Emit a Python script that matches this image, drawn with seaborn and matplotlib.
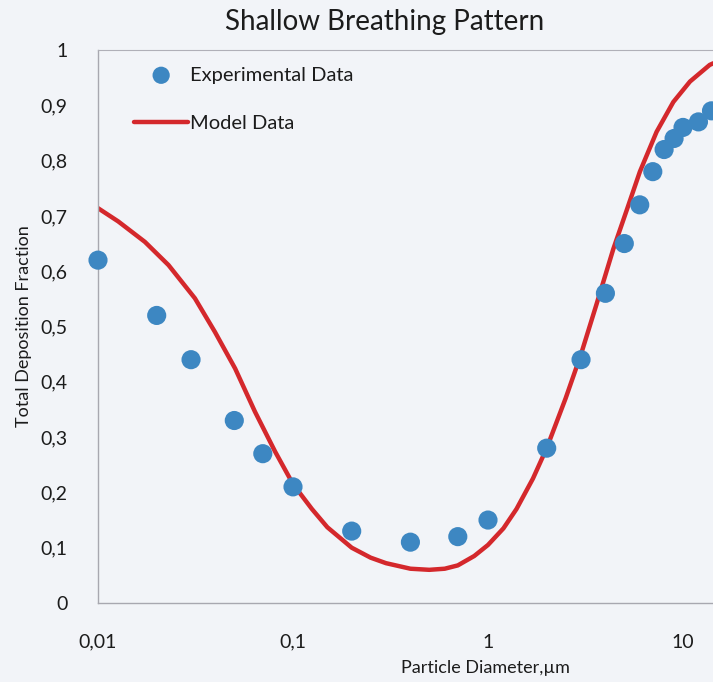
import matplotlib
matplotlib.use("Agg")
import matplotlib.pyplot as plt
import matplotlib.ticker as mticker
import seaborn as sns
import pandas as pd

# Measured total deposition (shallow breathing)
exp_diameter = [0.01, 0.02, 0.03, 0.05, 0.07, 0.1, 0.2, 0.4, 0.7, 1, 2, 3, 4, 5,
                6, 7, 8, 9, 10, 12, 14]
exp_fraction = [0.62, 0.52, 0.44, 0.33, 0.27, 0.21, 0.13, 0.11, 0.12, 0.15, 0.28,
                0.44, 0.56, 0.65, 0.72, 0.78, 0.82, 0.84, 0.86, 0.87, 0.89]

# Model prediction
model_diameter = [0.01, 0.0127, 0.0174, 0.023, 0.0314, 0.0398, 0.0505, 0.0638,
                  0.0809, 0.1, 0.125, 0.15, 0.2, 0.25, 0.3, 0.4, 0.5, 0.6, 0.7,
                  0.85, 1.0, 1.2, 1.4, 1.7, 2.0, 2.5, 3.0, 3.6, 4.39, 5.14, 6.01,
                  7.32, 8.92, 10.86, 13.7, 14.3]
model_fraction = [0.714, 0.690, 0.653, 0.611, 0.551, 0.490, 0.424, 0.346, 0.274,
                  0.215, 0.170, 0.137, 0.100, 0.082, 0.072, 0.062, 0.060, 0.062,
                  0.068, 0.085, 0.105, 0.135, 0.170, 0.225, 0.280, 0.370, 0.450,
                  0.540, 0.640, 0.710, 0.780, 0.852, 0.906, 0.943, 0.973, 0.976]

x_ticks = [0.01, 0.1, 1, 10]
x_tick_labels = ["0,01", "0,1", "1", "10"]
y_ticks = [0, 0.1, 0.2, 0.3, 0.4, 0.5, 0.6, 0.7, 0.8, 0.9, 1.0]
y_tick_labels = ["0", "0,1", "0,2", "0,3", "0,4", "0,5", "0,6", "0,7", "0,8", "0,9", "1"]

sns.set_theme(style="white")
plt.rcParams["font.family"] = ["Lato", "DejaVu Sans"]

ink = "#1c1c1c"
bg = "#f2f4f8"
fig = plt.figure(figsize=(7.13, 6.82), dpi=100, facecolor=bg)
ax = fig.add_axes([98 / 713, 1 - 603 / 682, 1 - 98 / 713, (603 - 50) / 682])
ax.set_facecolor(bg)

exp_df = pd.DataFrame({"d": exp_diameter, "f": exp_fraction})
model_df = pd.DataFrame({"d": model_diameter, "f": model_fraction})

sns.lineplot(data=model_df, x="d", y="f", ax=ax, color="#d4282c", linewidth=3.2,
             label="Model Data", zorder=2)
sns.scatterplot(data=exp_df, x="d", y="f", ax=ax, color="#3d87c2", s=190,
                edgecolor="none", label="Experimental Data", zorder=3, clip_on=False)

ax.set_xscale("log")
ax.set_xlim(0.01, 14.25)
ax.set_ylim(0, 1)
ax.set_xticks(x_ticks)
ax.set_xticklabels(x_tick_labels)
ax.set_yticks(y_ticks)
ax.set_yticklabels(y_tick_labels)
ax.xaxis.set_minor_locator(mticker.NullLocator())
ax.tick_params(axis="both", length=0, labelsize=14, colors=ink)
ax.tick_params(axis="y", pad=22)
ax.tick_params(axis="x", pad=22)

for side in ["left", "bottom"]:
    ax.spines[side].set_color("#a8a8b0")
    ax.spines[side].set_linewidth(1.0)
ax.spines["top"].set_color("#b0b0b8")
ax.spines["top"].set_linewidth(0.8)
ax.spines["top"].set_linestyle((0, (2, 1)))
ax.spines["right"].set_visible(False)

ax.set_xlabel("")
ax.set_ylabel("Total Deposition Fraction", fontsize=13, color=ink, labelpad=6)
fig.text(485 / 713, 1 - 668 / 682, "Particle Diameter,\u00b5m", ha="center",
         va="center", fontsize=13, color=ink)

fig.text(385 / 713, 1 - 22 / 682, "Shallow Breathing Pattern", ha="center",
         va="center", fontsize=20, color=ink)

handles, labels = ax.get_legend_handles_labels()
order = [labels.index("Experimental Data"), labels.index("Model Data")]
leg = ax.legend([handles[i] for i in order], [labels[i] for i in order],
                loc="upper left", bbox_to_anchor=(0.029, 1.003), frameon=False,
                fontsize=14.5, handlelength=2.7, handletextpad=0.1,
                labelspacing=1.55, markerscale=0.9)
for t in leg.get_texts():
    t.set_color(ink)

fig.savefig("out.png", dpi=100, facecolor=bg)
